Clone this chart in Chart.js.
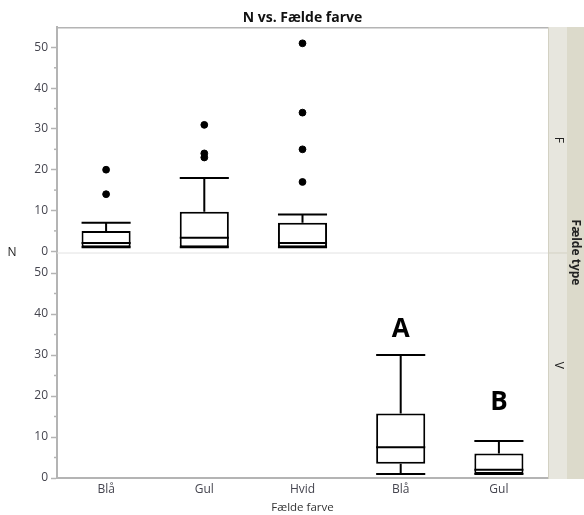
<!DOCTYPE html>
<html>
<head>
<meta charset="utf-8">
<script src="https://cdn.jsdelivr.net/npm/chart.js@4"></script>
<style>
  html, body { margin: 0; padding: 0; background: #fff; }
  canvas { display: block; }
</style>
</head>
<body>
<canvas id="chart" width="584" height="515"></canvas>
<script>
// categories along the x axis, and which Fælde type panel each sits in
const categories = ['Blå', 'Gul', 'Hvid', 'Blå', 'Gul']
const panels = ['F', 'F', 'F', 'V', 'V']

// box plot statistics for N, one entry per category
const whiskerLow = [1, 1, 1, 1, 1]
const q1 = [1, 1, 1, 3.5, 1]
const median = [2, 3.3, 2, 7.5, 2]
const q3 = [5, 9.7, 7, 15.75, 6]
const whiskerHigh = [7, 18, 9, 30, 9]

// outliers (all in panel F)
const outlierCat = [0, 0, 1, 1, 1, 2, 2, 2, 2]
const outlierN = [20, 14, 31, 24, 23, 51, 34, 25, 17]

// group letters placed above the V boxes
const letters = ['A', 'B']
const letterCat = [3, 4]
const letterN = [36.3, 18.4]

const yTicks = [0, 10, 20, 30, 40, 50]
const minorTicks = [5, 15, 25, 35, 45]

const axisGray = '#b4b4b4'
const tickText = '#45454f'
const fontFamily = "'Open Sans', 'Noto Sans', sans-serif"

function boxData(panel) {
  return categories.map((c, i) => panels[i] === panel ? {x: i, y: [q1[i], q3[i]]} : null).filter(d => d)
}

function yScale(min) {
  return {
    type: 'linear',
    position: 'left',
    stack: 'panel',
    stackWeight: 1,
    min: min,
    max: 55,
    ticks: {
      stepSize: 10,
      includeBounds: false,
      padding: 3,
      color: tickText,
      font: {family: fontFamily, size: 12}
    },
    afterBuildTicks: s => { s.ticks = yTicks.map(v => ({value: v})) },
    afterFit: s => { s.width = 57 },
    grid: {drawOnChartArea: false, tickLength: 6, color: axisGray, tickWidth: 1.5},
    border: {color: axisGray, width: 2}
  }
}

// whiskers, medians, minor ticks, strips and the free texts
const boxPlotExtras = {
  id: 'boxPlotExtras',
  beforeDatasetsDraw(chart) {
    const {ctx, chartArea: a, scales} = chart
    const yF = scales.yF
    ctx.save()
    // right strip with Fælde type levels
    ctx.fillStyle = '#e7e6de'
    ctx.fillRect(a.right, a.top, 19, a.bottom - a.top + 1)
    ctx.fillStyle = '#dcdacb'
    ctx.fillRect(a.right + 19, a.top, chart.width - a.right - 19, a.bottom - a.top + 1)
    ctx.strokeStyle = '#d3d1c3'
    ctx.lineWidth = 1
    ctx.beginPath()
    ctx.moveTo(a.right + 0.5, a.top); ctx.lineTo(a.right + 0.5, a.bottom + 1)
    ctx.moveTo(a.right, yF.bottom + 0.5); ctx.lineTo(a.right + 19, yF.bottom + 0.5)
    ctx.stroke()
    // top frame line and panel separator
    ctx.strokeStyle = axisGray
    ctx.lineWidth = 1.5
    ctx.beginPath()
    ctx.moveTo(a.left, a.top + 0.75); ctx.lineTo(a.right, a.top + 0.75)
    ctx.stroke()
    ctx.strokeStyle = '#e2e2e2'
    ctx.lineWidth = 1
    ctx.beginPath()
    ctx.moveTo(a.left, yF.bottom + 0.5); ctx.lineTo(a.right, yF.bottom + 0.5)
    ctx.stroke()
    // minor ticks
    ctx.strokeStyle = axisGray
    ctx.lineWidth = 1.5
    for (const id of ['yF', 'yV']) {
      const s = scales[id]
      for (const v of minorTicks) {
        const y = s.getPixelForValue(v)
        ctx.beginPath(); ctx.moveTo(a.left - 3, y); ctx.lineTo(a.left, y); ctx.stroke()
      }
    }
    ctx.restore()
  },
  afterDatasetsDraw(chart) {
    const {ctx, chartArea: a, scales} = chart
    const x = scales.x
    const half = (x.getPixelForValue(1) - x.getPixelForValue(0)) / 4
    ctx.save()
    ctx.strokeStyle = '#000'
    ctx.lineWidth = 2
    categories.forEach((c, i) => {
      const y = scales['y' + panels[i]]
      const cx = x.getPixelForValue(i)
      const lo = y.getPixelForValue(whiskerLow[i])
      const hi = y.getPixelForValue(whiskerHigh[i])
      const b = y.getPixelForValue(q1[i])
      const t = y.getPixelForValue(q3[i])
      const m = y.getPixelForValue(median[i])
      ctx.beginPath()
      ctx.moveTo(cx, t); ctx.lineTo(cx, hi)
      ctx.moveTo(cx, b); ctx.lineTo(cx, lo)
      ctx.moveTo(cx - half, hi); ctx.lineTo(cx + half, hi)
      ctx.moveTo(cx - half, lo); ctx.lineTo(cx + half, lo)
      ctx.moveTo(cx - half, m); ctx.lineTo(cx + half, m)
      ctx.stroke()
    })
    // group letters
    ctx.fillStyle = '#000'
    ctx.textAlign = 'center'
    ctx.textBaseline = 'middle'
    ctx.font = 'bold 26px ' + fontFamily
    letters.forEach((l, i) => {
      ctx.fillText(l, x.getPixelForValue(letterCat[i]), scales.yV.getPixelForValue(letterN[i]))
    })
    // y axis title
    ctx.font = '12px ' + fontFamily
    ctx.fillStyle = '#222'
    ctx.fillText('N', 12, scales.yF.bottom)
    // strip labels, rotated
    const rot = (text, px, py, font) => {
      ctx.save()
      ctx.translate(px, py)
      ctx.rotate(Math.PI / 2)
      ctx.font = font
      ctx.fillText(text, 0, 0)
      ctx.restore()
    }
    const yF = scales.yF, yV = scales.yV
    rot('F', a.right + 10, (yF.top + yF.bottom) / 2, '12px ' + fontFamily)
    rot('V', a.right + 10, (yV.top + yV.bottom) / 2, '12px ' + fontFamily)
    rot('Fælde type', a.right + 27, yF.bottom, 'bold 12px ' + fontFamily)
    ctx.restore()
  }
}

new Chart(document.getElementById('chart'), {
  type: 'bar',
  data: {
    datasets: [
      {
        label: 'F',
        data: boxData('F'),
        yAxisID: 'yF',
        backgroundColor: '#fff',
        borderColor: '#000',
        borderWidth: 2,
        borderSkipped: false
      },
      {
        label: 'V',
        data: boxData('V'),
        yAxisID: 'yV',
        backgroundColor: '#fff',
        borderColor: '#000',
        borderWidth: 2,
        borderSkipped: false
      },
      {
        type: 'scatter',
        label: 'outliers',
        data: outlierN.map((n, i) => ({x: outlierCat[i], y: n})),
        yAxisID: 'yF',
        backgroundColor: '#000',
        borderColor: '#000',
        pointRadius: 3.4,
        order: -1
      }
    ]
  },
  options: {
    responsive: false,
    animation: false,
    devicePixelRatio: 1,
    grouped: false,
    barPercentage: 0.5,
    categoryPercentage: 1,
    layout: {padding: {left: 0, right: 36, top: 0, bottom: 0}},
    plugins: {
      legend: {display: false},
      tooltip: {enabled: false},
      title: {
        display: true,
        fullSize: false,
        text: 'N vs. Fælde farve',
        color: '#111',
        font: {family: fontFamily, size: 14, weight: 'bold'},
        padding: {top: 9.6, bottom: 0.6}
      }
    },
    scales: {
      x: {
        type: 'linear',
        min: -0.5,
        max: 4.5,
        offset: false,
        afterBuildTicks: s => { s.ticks = categories.map((c, i) => ({value: i})) },
        afterFit: s => { s.height = 37 },
        ticks: {
          autoSkip: false,
          maxRotation: 0,
          padding: 4,
          color: tickText,
          font: {family: fontFamily, size: 12},
          callback: v => categories[v]
        },
        grid: {display: false, drawTicks: false},
        border: {color: axisGray, width: 2},
        title: {
          display: true,
          text: 'Fælde farve',
          color: '#333',
          font: {family: fontFamily, size: 11.5},
          padding: {top: 1, bottom: 0}
        }
      },
      yV: yScale(0),
      yF: yScale(-0.3)
    }
  },
  plugins: [boxPlotExtras]
})
</script>
</body>
</html>
